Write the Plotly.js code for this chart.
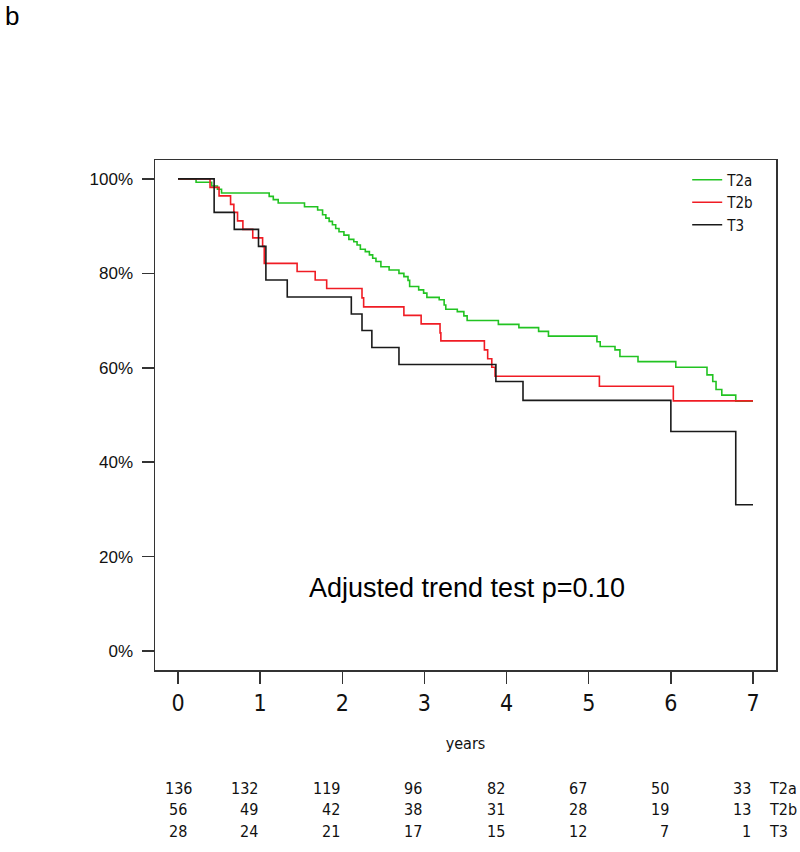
<!DOCTYPE html>
<html>
<head>
<meta charset="utf-8">
<script src="https://cdn.plot.ly/plotly-3.0.1.min.js"></script>
<style>html,body{margin:0;padding:0;background:#fff;}#chart{width:800px;height:852px;}</style>
</head>
<body>
<div id="chart"></div>
<script>
// Kaplan-Meier step data (years, survival %)
const t2aTime = [0, 0.22, 0.41, 0.48, 0.53, 1.11, 1.16, 1.22, 1.54, 1.70, 1.76, 1.80, 1.84, 1.88, 1.92, 1.96, 2.02, 2.08, 2.14, 2.18, 2.22, 2.28, 2.33, 2.37, 2.41, 2.47, 2.57, 2.69, 2.75, 2.80, 2.82, 2.93, 2.99, 3.03, 3.18, 3.24, 3.26, 3.40, 3.48, 3.52, 3.90, 4.15, 4.39, 4.51, 5.10, 5.14, 5.32, 5.38, 5.60, 6.06, 6.44, 6.51, 6.55, 6.62, 6.79, 7.00];
const t2aSurv = [100, 99.3, 98.5, 97.8, 97.0, 96.3, 95.6, 94.9, 94.1, 93.4, 92.4, 91.7, 91.0, 90.3, 89.5, 88.8, 88.1, 87.2, 86.7, 86.0, 85.1, 84.6, 83.9, 83.2, 82.5, 81.4, 80.7, 80.0, 79.3, 78.5, 77.2, 76.5, 75.8, 74.9, 74.4, 73.3, 72.4, 71.9, 71.0, 70.0, 69.2, 68.5, 67.7, 66.7, 65.5, 64.5, 63.8, 62.4, 61.3, 60.1, 58.5, 57.1, 55.4, 54.2, 52.9, 52.9];

const t2bTime = [0, 0.39, 0.50, 0.64, 0.68, 0.725, 0.79, 0.91, 1.03, 1.05, 1.45, 1.67, 1.81, 2.24, 2.26, 2.75, 2.96, 3.19, 3.20, 3.73, 3.77, 3.82, 3.86, 5.13, 6.03, 7.00];
const t2bSurv = [100, 98.2, 96.4, 94.6, 92.9, 91.1, 89.3, 87.5, 85.7, 82.1, 80.4, 78.6, 76.8, 74.8, 72.9, 71.1, 69.3, 67.4, 65.7, 63.8, 61.9, 60.1, 58.2, 56.1, 53.0, 53.0];

const t3Time = [0, 0.44, 0.685, 0.98, 1.07, 1.33, 2.11, 2.24, 2.36, 2.69, 3.87, 4.20, 6.00, 6.79, 7.00];
const t3Surv = [100, 92.9, 89.3, 85.7, 78.6, 75.0, 71.4, 67.9, 64.3, 60.7, 57.1, 53.1, 46.5, 31.0, 31.0];

const groupNames = ['T2a', 'T2b', 'T3'];
const riskTimes = [0, 1, 2, 3, 4, 5, 6, 7];
const riskT2a = [136, 132, 119, 96, 82, 67, 50, 33];
const riskT2b = [56, 49, 42, 38, 31, 28, 19, 13];
const riskT3 = [28, 24, 21, 17, 15, 12, 7, 1];

const yTickVals = [0, 20, 40, 60, 80, 100];
const yTickText = ['0%', '20%', '40%', '60%', '80%', '100%'];
const xTickVals = [0, 1, 2, 3, 4, 5, 6, 7];

const colors = ['#22c322', '#f01c24', '#1a1a1a'];
const FONT = 'Liberation Sans, Arial, sans-serif';
const NARROW = 'Liberation Sans Narrow, DejaVu Sans Condensed, Liberation Sans, Arial, sans-serif';

const series = [[t2aTime, t2aSurv], [t2bTime, t2bSurv], [t3Time, t3Surv]];
const traces = series.map((s, i) => ({
  x: s[0], y: s[1], type: 'scatter', mode: 'lines',
  line: {shape: 'hv', color: colors[i], width: 1.6},
  name: groupNames[i], hoverinfo: 'skip'
}));

const annotations = [];
const risks = [riskT2a, riskT2b, riskT3];
const rowY = [-0.2333, -0.2745, -0.3157];
risks.forEach((row, r) => {
  row.forEach((v, c) => {
    annotations.push({
      xref: 'x', yref: 'paper', x: riskTimes[c], y: rowY[r],
      xanchor: c === 0 ? 'center' : 'right', yanchor: 'middle',
      text: String(v), showarrow: false,
      font: {family: NARROW, size: 16, color: '#111'}
    });
  });
  annotations.push({
    xref: 'x', yref: 'paper', x: 7.17, y: rowY[r], xanchor: 'left', yanchor: 'middle',
    text: groupNames[r], showarrow: false,
    font: {family: NARROW, size: 16, color: '#111'}
  });
});
annotations.push({
  xref: 'x', yref: 'y', x: 3.52, y: 13.3, xanchor: 'center', yanchor: 'middle',
  text: 'Adjusted trend test p=0.10', showarrow: false,
  font: {family: FONT, size: 27, color: '#000'}
});
annotations.push({
  xref: 'paper', yref: 'paper', x: -0.2448, y: 1.282, xanchor: 'left', yanchor: 'middle',
  text: 'b', showarrow: false,
  font: {family: FONT, size: 26, color: '#000'}
});

const layout = {
  width: 800, height: 852,
  margin: {l: 155, r: 24, t: 160, b: 182},
  paper_bgcolor: '#fff', plot_bgcolor: '#fff',
  showlegend: true,
  legend: {
    x: 0.857, y: 0.993, xanchor: 'left', yanchor: 'top',
    bgcolor: 'rgba(0,0,0,0)', borderwidth: 0,
    font: {family: NARROW, size: 15, color: '#111'},
    tracegroupgap: 0
  },
  xaxis: {
    range: [-0.28, 7.28], tickvals: xTickVals, ticktext: xTickVals.map(String),
    showgrid: false, zeroline: false,
    showline: true, mirror: true, linecolor: '#333', linewidth: 1.5,
    ticks: 'outside', ticklen: 12, tickwidth: 1.5, tickcolor: '#333',
    tickfont: {family: NARROW, size: 23, color: '#111'},
    title: {text: 'years', font: {family: NARROW, size: 16, color: '#111'}, standoff: 22}
  },
  yaxis: {
    range: [-4, 104], tickvals: yTickVals, ticktext: yTickText,
    showgrid: false, zeroline: false,
    showline: true, mirror: true, linecolor: '#333', linewidth: 1.5,
    ticks: 'outside', ticklen: 12, tickwidth: 1.5, tickcolor: '#333',
    ticklabelstandoff: 5,
    tickfont: {family: FONT, size: 17, color: '#111'}
  },
  annotations: annotations
};

Plotly.newPlot('chart', traces, layout, {displayModeBar: false, staticPlot: true});
</script>
</body>
</html>
